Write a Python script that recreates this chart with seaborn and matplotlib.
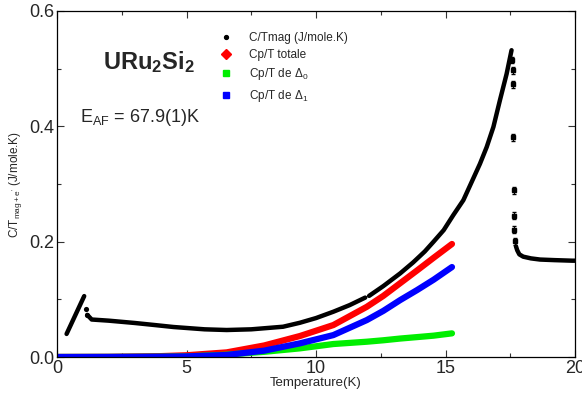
import matplotlib
matplotlib.use('agg')
from matplotlib import pyplot as plt
from matplotlib.lines import Line2D
from matplotlib.ticker import MultipleLocator
import seaborn as sns
import pandas as pd

# C/Tmag measured data, split where the measured curve has breaks
t_low = [0.37, 1.05]
c_low = [0.040, 0.1056]
t_jump = [1.12, 1.17]
c_jump = [0.084, 0.073]
t_main = [1.17, 1.34, 2.0, 2.5, 3.0, 3.78, 4.5, 5.7, 6.55, 7.5, 8.73, 9.38,
          10.0, 10.67, 11.3, 11.9]
c_main = [0.073, 0.065, 0.063, 0.061, 0.059, 0.0554, 0.052, 0.048, 0.0468,
          0.048, 0.0525, 0.0594, 0.0675, 0.0785, 0.090, 0.103]
t_high = [12.05, 12.6, 13.25, 13.75, 14.2, 14.54, 14.93, 15.3, 15.69, 16.33,
          16.59, 16.85, 17.1, 17.36, 17.55]
c_high = [0.106, 0.123, 0.145, 0.164, 0.183, 0.200, 0.220, 0.246, 0.272, 0.335,
          0.364, 0.399, 0.445, 0.491, 0.532]
t_trans = [17.58, 17.6, 17.62, 17.62, 17.64, 17.64, 17.66, 17.68]
c_trans = [0.515, 0.497, 0.473, 0.381, 0.289, 0.245, 0.221, 0.201]
t_para = [17.72, 17.77, 17.85, 18.0, 18.3, 18.65, 19.2, 19.9, 20.0]
c_para = [0.192, 0.185, 0.178, 0.174, 0.171, 0.169, 0.168, 0.167, 0.167]

# model curves
t_fit = [0, 2, 4, 5, 6.55, 8, 9.38, 10.67, 11.96, 12.6, 13.25, 13.9, 14.54, 15.25]
cp_total = [0, 0.0003, 0.0015, 0.003, 0.008, 0.020, 0.0364, 0.0554, 0.087,
            0.106, 0.128, 0.150, 0.172, 0.196]
cp_delta0 = [0, 0.0001, 0.0005, 0.001, 0.004, 0.009, 0.015, 0.0225, 0.0265,
             0.029, 0.032, 0.0345, 0.037, 0.041]
cp_delta1 = [0, 0.0001, 0.0005, 0.001, 0.0035, 0.011, 0.0237, 0.038, 0.064,
             0.080, 0.0987, 0.116, 0.134, 0.156]

sns.set_style("ticks")
plt.rcParams['font.family'] = ['Liberation Sans', 'DejaVu Sans']
plt.rcParams['mathtext.fontset'] = 'custom'
plt.rcParams['mathtext.rm'] = 'Liberation Sans'
plt.rcParams['mathtext.it'] = 'Liberation Sans:italic'
plt.rcParams['mathtext.bf'] = 'Liberation Sans:bold'

fig = plt.figure(figsize=(5.82, 3.98), dpi=100)
ax = fig.add_axes([57/582, 1 - 357/398, 518/582, 346/398])

fits = pd.DataFrame({'T': t_fit, 'total': cp_total, 'd0': cp_delta0, 'd1': cp_delta1})
sns.lineplot(data=fits, x='T', y='total', color='#ff0000', lw=4.5, ax=ax)
sns.lineplot(data=fits, x='T', y='d0', color='#00ee00', lw=4.5, ax=ax)
sns.lineplot(data=fits, x='T', y='d1', color='#0000ff', lw=4.5, ax=ax)

for tt, cc in [(t_low, c_low), (t_main, c_main), (t_high, c_high), (t_para, c_para)]:
    sns.lineplot(x=tt, y=cc, color='black', lw=3.2, sort=False, estimator=None, ax=ax)
sns.scatterplot(x=t_jump, y=c_jump, color='black', s=14, linewidth=0, ax=ax)
ax.errorbar(t_trans, c_trans, yerr=0.006, fmt='s', ms=2.5, color='black',
            capsize=1.5, elinewidth=0.8)

ax.set_xlim(0, 20)
ax.set_ylim(0, 0.6)
ax.set_xticks([0, 5, 10, 15, 20])
ax.set_yticks([0, 0.2, 0.4, 0.6])
ax.set_xticklabels(['0', '5', '10', '15', '20'])
ax.set_yticklabels(['0.0', '0.2', '0.4', '0.6'])
ax.xaxis.set_minor_locator(MultipleLocator(2.5))
ax.yaxis.set_minor_locator(MultipleLocator(0.1))
ax.tick_params(which='both', direction='in', top=True, right=True,
               width=0.8, color='#333333', labelsize=13, pad=2)
ax.tick_params(which='major', length=5)
ax.tick_params(which='minor', length=3)
for s in ax.spines.values():
    s.set_linewidth(0.9)
    s.set_color('black')

ax.set_xlabel('Temperature(K)', fontsize=9.5, labelpad=0)
ax.set_ylabel(r"C/T$_{\rm mag+e'}$ (J/mole.K)", fontsize=8.5, labelpad=4)

ax.text(1.78, 0.50, r'$\mathbf{URu_2Si_2}$', fontsize=17)
ax.text(0.89, 0.407, r'E$_{\rm AF}$ = 67.9(1)K', fontsize=13)

handles = [
    Line2D([], [], ls='none', marker='o', ms=2.8, color='black'),
    Line2D([], [], ls='none', marker='D', ms=5, color='#ff0000'),
    Line2D([], [], ls='none', marker='s', ms=5, color='#00ee00'),
    Line2D([], [], ls='none', marker='s', ms=5, color='#0000ff'),
]
labels = ['C/Tmag (J/mole.K)', 'Cp/T totale', r'Cp/T de $\Delta_0$', r'Cp/T de $\Delta_1$']
ax.legend(handles, labels, loc='upper left', bbox_to_anchor=(0.312, 0.94),
          frameon=False, fontsize=8.5, handlelength=1.2, handletextpad=1.4,
          labelspacing=0.45, borderpad=0, borderaxespad=0)

fig.savefig('out.png', dpi=100)
plt.close(fig)
